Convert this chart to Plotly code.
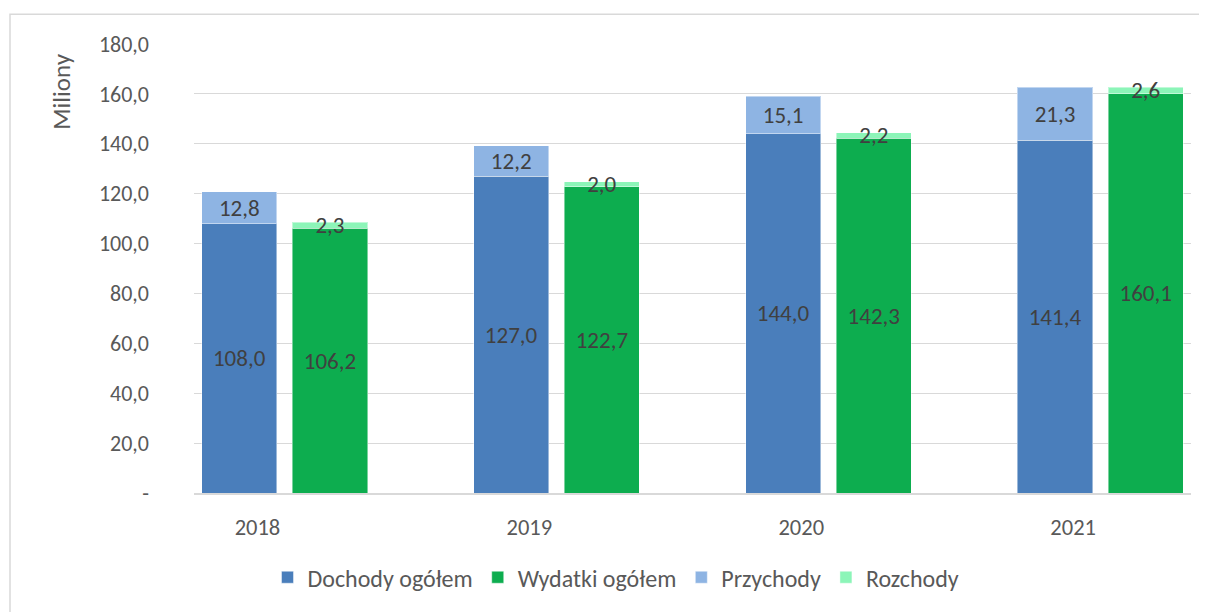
import plotly.graph_objects as go

years = ["2018", "2019", "2020", "2021"]
dochody = [108.0, 127.0, 144.0, 141.4]
przychody = [12.8, 12.2, 15.1, 21.3]
wydatki = [106.2, 122.7, 142.3, 160.1]
rozchody = [2.3, 2.0, 2.2, 2.6]
y_ticks = [0, 20, 40, 60, 80, 100, 120, 140, 160, 180]
y_ticktext = ["-", "20,0", "40,0", "60,0", "80,0", "100,0", "120,0", "140,0", "160,0", "180,0"]

FONT = "Carlito, Calibri, Lato, sans-serif"
x_d = [3 * i for i in range(len(years))]
x_w = [3 * i + 1 for i in range(len(years))]
x_lab = [3 * i + 0.2 for i in range(len(years))]

bw = 0.83
line = dict(color="rgba(255,255,255,0.45)", width=1)
common = dict(width=bw, texttemplate="%{y:.1f}", textposition="inside",
              insidetextanchor="middle", textangle=0,
              textfont=dict(family=FONT, size=23, color="#404040"),
              hoverinfo="skip")

fig = go.Figure()
fig.add_bar(x=x_d, y=dochody, name="Dochody ogółem", marker=dict(color="#4A7EBB", line=line), **common)
fig.add_bar(x=x_w, y=wydatki, name="Wydatki ogółem", marker=dict(color="#0DAD4F", line=line), **common)
fig.add_bar(x=x_d, y=przychody, name="Przychody", marker=dict(color="#8EB4E3", line=line), **common)
fig.add_bar(x=x_w, y=rozchody, name="Rozchody", marker=dict(color="#8CF5B8", line=line), **common)

# page has an 8px body margin: work in page pixels, convert to figure pixels
OFF = 8
W, H = 1207 - OFF, 612 - OFF
L, R, T, B = 194 - OFF, 1191 - OFF, 44 - OFF, 495 - OFF

def px2x(p):
    return (p - OFF - L) / (R - L)

def px2y(p):
    return (B - (p - OFF)) / (B - T)

fig.update_layout(
    width=W, height=H,
    margin=dict(l=L, r=W - R, t=T, b=H - B, pad=0),
    barmode="stack",
    separators=", ",
    paper_bgcolor="white", plot_bgcolor="white",
    font=dict(family=FONT, size=22, color="#595959"),
    uniformtext=dict(minsize=23, mode="show"),
    showlegend=True,
    legend=dict(orientation="h", x=px2x(616), xanchor="center", y=px2y(580), yanchor="middle",
                font=dict(family=FONT, size=24, color="#595959"), traceorder="normal",
                itemwidth=30, bgcolor="rgba(0,0,0,0)"),
    xaxis=dict(range=[-0.5, 10.5], tickvals=x_lab, ticktext=years, showgrid=False,
               zeroline=False, showline=True, linecolor="#D9D9D9", linewidth=1.5,
               ticks="", ticklabelstandoff=13, tickfont=dict(size=22.5, color="#595959"),
               fixedrange=True),
    yaxis=dict(range=[0, 180], tickvals=y_ticks, ticktext=y_ticktext, showgrid=True,
               gridcolor="#D9D9D9", gridwidth=1.3, zeroline=False, showline=False,
               ticks="", ticklabelstandoff=44, tickfont=dict(size=22, color="#595959"),
               fixedrange=True),
    shapes=[dict(type="rect", xref="paper", yref="paper",
                 x0=px2x(10), x1=px2x(1206), y0=px2y(620), y1=px2y(14),
                 line=dict(color="#D9D9D9", width=1.5), fillcolor="rgba(0,0,0,0)", layer="below")],
    annotations=[dict(text="Miliony", xref="paper", yref="paper", x=px2x(62), y=px2y(92),
                      textangle=-90, showarrow=False, xanchor="center", yanchor="middle",
                      font=dict(family=FONT, size=25, color="#595959"))],
)

fig.write_html("out.html")
